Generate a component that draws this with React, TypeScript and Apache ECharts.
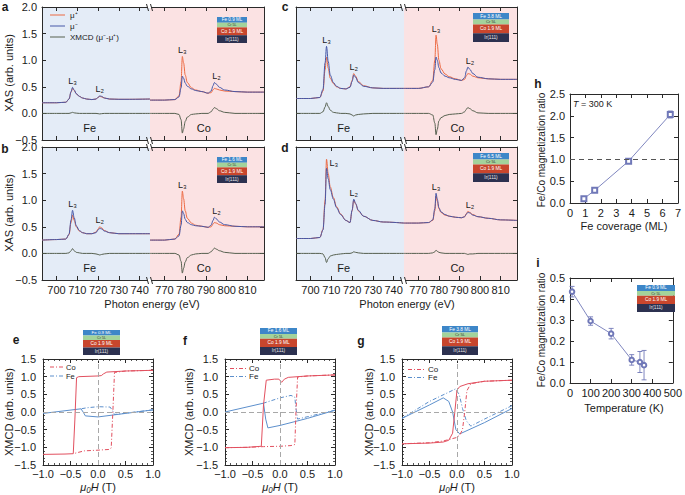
import React, { useEffect, useRef } from "react";
import * as echarts from "echarts";

const FONT = '"Liberation Sans", Arial, Helvetica, sans-serif';
const AXC = "#2a2a2a";
const TXT = "#1a1a1a";
const BLUE_BG = "#e4ecf7";
const PINK_BG = "#fbe2e3";
const C_MUP = "#ec6a43";
const C_MUM = "#4658a8";
const C_XMCD = "#56604f";
const C_CO = "#e2505f";
const C_FE = "#5c8fcc";
const C_RATIO = "#7078b8";
const DASHDOT = [4, 2, 1, 2];

// ---------- XAS energy grids (eV) and ticks ----------
const FE_E = [693, 700, 704.5, 706, 707, 707.7, 708.5, 709.5, 711, 712.5, 714.5, 717, 719, 720, 720.8, 721.7, 723, 725.5, 730, 735, 745];
const CO_E = [763, 770, 775, 777, 778, 778.6, 779.2, 780, 781, 783, 785, 788, 791, 792.5, 793.4, 794.1, 795, 796.5, 799, 804, 810, 818];
const FE_TICKS = [700, 710, 720, 730, 740];
const CO_TICKS = [770, 780, 790, 800, 810];

// ---------- panel a ----------
const A_FE_MUP = [0.2, 0.2, 0.21, 0.27, 0.4, 0.47, 0.43, 0.37, 0.32, 0.29, 0.27, 0.26, 0.27, 0.3, 0.32, 0.31, 0.29, 0.27, 0.265, 0.265, 0.27];
const A_FE_MUM = [0.2, 0.2, 0.21, 0.27, 0.41, 0.49, 0.44, 0.37, 0.32, 0.29, 0.27, 0.26, 0.27, 0.3, 0.33, 0.32, 0.29, 0.27, 0.265, 0.265, 0.27];
const A_FE_XMCD = [0, 0, 0, 0, 0.01, 0.02, 0.01, 0.005, 0, 0, 0, 0, 0, -0.005, -0.01, -0.005, 0, 0, 0, 0, 0];
const A_CO_MUP = [0.25, 0.25, 0.26, 0.33, 0.6, 1.07, 0.95, 0.72, 0.58, 0.48, 0.44, 0.41, 0.38, 0.39, 0.44, 0.47, 0.46, 0.44, 0.42, 0.41, 0.4, 0.4];
const A_CO_MUM = [0.25, 0.25, 0.26, 0.31, 0.48, 0.7, 0.66, 0.57, 0.51, 0.46, 0.43, 0.41, 0.38, 0.42, 0.52, 0.58, 0.55, 0.49, 0.44, 0.41, 0.4, 0.4];
const A_CO_XMCD = [0, 0, 0, -0.02, -0.12, -0.37, -0.29, -0.15, -0.07, -0.02, -0.01, 0, 0, 0.03, 0.08, 0.11, 0.09, 0.05, 0.02, 0, 0, 0];

// ---------- panel b ----------
const B_FE_MUP = [0.25, 0.26, 0.27, 0.35, 0.58, 0.72, 0.62, 0.5, 0.42, 0.39, 0.37, 0.37, 0.4, 0.46, 0.5, 0.48, 0.43, 0.39, 0.37, 0.37, 0.37];
const B_FE_MUM = [0.25, 0.26, 0.27, 0.36, 0.63, 0.81, 0.67, 0.52, 0.43, 0.39, 0.37, 0.37, 0.39, 0.44, 0.47, 0.46, 0.42, 0.39, 0.37, 0.37, 0.37];
const B_FE_XMCD = [0, 0, 0, 0.01, 0.05, 0.09, 0.05, 0.02, 0.01, 0, 0, 0, -0.01, -0.02, -0.03, -0.02, -0.01, 0, 0, 0, 0];
const B_CO_MUP = [0.25, 0.25, 0.27, 0.36, 0.68, 1.17, 1.03, 0.8, 0.66, 0.57, 0.53, 0.51, 0.49, 0.5, 0.55, 0.58, 0.57, 0.54, 0.52, 0.51, 0.5, 0.5];
const B_CO_MUM = [0.25, 0.25, 0.27, 0.33, 0.53, 0.8, 0.75, 0.64, 0.58, 0.54, 0.52, 0.51, 0.49, 0.53, 0.62, 0.68, 0.65, 0.59, 0.54, 0.51, 0.5, 0.5];
const B_CO_XMCD = [0, 0, 0, -0.03, -0.15, -0.37, -0.28, -0.16, -0.08, -0.03, -0.01, 0, 0, 0.03, 0.07, 0.1, 0.08, 0.05, 0.02, 0, 0, 0];

// ---------- panel c ----------
const C_FE_MUP = [0.28, 0.28, 0.3, 0.42, 0.82, 1.06, 0.85, 0.66, 0.56, 0.5, 0.47, 0.46, 0.5, 0.62, 0.75, 0.7, 0.6, 0.52, 0.48, 0.47, 0.47];
const C_FE_MUM = [0.28, 0.28, 0.3, 0.45, 0.95, 1.26, 0.98, 0.72, 0.58, 0.51, 0.47, 0.46, 0.49, 0.6, 0.72, 0.68, 0.58, 0.51, 0.48, 0.47, 0.47];
const C_FE_XMCD = [0, 0, 0, 0.03, 0.12, 0.2, 0.13, 0.06, 0.02, 0.01, 0, 0, -0.01, -0.03, -0.05, -0.03, -0.02, -0.01, 0, 0, 0];
const C_CO_MUP = [0.47, 0.47, 0.5, 0.62, 1.0, 1.47, 1.3, 1.0, 0.84, 0.74, 0.69, 0.65, 0.62, 0.64, 0.71, 0.75, 0.74, 0.7, 0.67, 0.65, 0.64, 0.64];
const C_CO_MUM = [0.47, 0.47, 0.5, 0.59, 0.82, 1.06, 1.0, 0.86, 0.76, 0.7, 0.67, 0.64, 0.62, 0.67, 0.8, 0.87, 0.83, 0.75, 0.68, 0.65, 0.64, 0.64];
const C_CO_XMCD = [0, 0, 0, -0.03, -0.18, -0.4, -0.3, -0.14, -0.08, -0.04, -0.02, -0.01, 0, 0.03, 0.08, 0.11, 0.09, 0.05, 0.01, 0, 0, 0];

// ---------- panel d ----------
const D_FE_MUP = [0.28, 0.28, 0.3, 0.45, 1.0, 1.77, 1.5, 1.25, 1.05, 0.88, 0.74, 0.62, 0.58, 0.8, 1.0, 0.93, 0.8, 0.7, 0.62, 0.59, 0.57];
const D_FE_MUM = [0.28, 0.28, 0.3, 0.44, 0.92, 1.6, 1.4, 1.2, 1.02, 0.86, 0.73, 0.62, 0.58, 0.81, 1.02, 0.94, 0.81, 0.7, 0.62, 0.59, 0.57];
const D_FE_XMCD = [0, 0, 0, -0.01, -0.08, -0.17, -0.1, -0.05, -0.03, -0.02, -0.01, 0, 0, 0.01, 0.03, 0.02, 0.01, 0, 0, 0, 0];
const D_CO_MUP = [0.57, 0.57, 0.58, 0.62, 0.8, 1.08, 0.98, 0.84, 0.77, 0.72, 0.7, 0.68, 0.67, 0.69, 0.75, 0.79, 0.77, 0.73, 0.69, 0.66, 0.63, 0.62];
const D_CO_MUM = [0.57, 0.57, 0.58, 0.63, 0.84, 1.13, 1.02, 0.86, 0.78, 0.73, 0.7, 0.68, 0.67, 0.69, 0.74, 0.77, 0.76, 0.72, 0.69, 0.66, 0.63, 0.62];
const D_CO_XMCD = [0, 0, 0, 0.01, 0.03, 0.06, 0.04, 0.02, 0.01, 0, 0, 0, 0, 0, -0.01, -0.02, -0.01, -0.01, 0, 0, 0, 0];

// ---------- hysteresis loops (field in T, XMCD) ----------
const E_CO_UP_H = [-1, -0.6, -0.45, -0.42, -0.39, -0.35, 0, 0.06, 0.1, 0.16, 0.5, 1];
const E_CO_UP_M = [-1.2, -1.19, -1.18, -0.2, 0.97, 1.0, 1.02, 1.03, 1.08, 1.13, 1.16, 1.18];
const E_CO_DN_H = [1, 0.5, 0.3, 0.27, 0.24, 0.2, 0, -0.25, -0.4, -0.45];
const E_CO_DN_M = [1.18, 1.16, 1.12, 0.0, -1.02, -1.06, -1.08, -1.1, -1.16, -1.18];
const E_FE_UP_H = [-1, -0.31, -0.27, -0.23, 0, 0.5, 1];
const E_FE_UP_M = [-0.04, 0.09, 0.0, -0.11, -0.14, -0.04, 0.06];
const E_FE_DN_H = [1, 0.3, 0.26, 0.22, 0, -0.2, -0.31];
const E_FE_DN_M = [0.06, -0.07, 0.05, 0.14, 0.15, 0.12, 0.09];

const F_CO_UP_H = [-1, -0.6, -0.34, -0.3, -0.25, -0.1, -0.02, 0.03, 0.08, 0.15, 0.5, 1];
const F_CO_UP_M = [-1.01, -1.0, -0.97, 0.2, 0.9, 0.93, 0.93, 0.84, 0.93, 0.98, 1.02, 1.05];
const F_CO_DN_H = [1, 0.5, 0.32, 0.29, 0.27, 0.2, 0, -0.3, -0.6, -1];
const F_CO_DN_M = [1.05, 1.02, 0.99, 0.0, -0.92, -0.95, -0.97, -0.98, -1.0, -1.01];
const F_FE_UP_H = [-1, -0.3, -0.26, -0.22, 0, 0.5, 1];
const F_FE_UP_M = [0.0, 0.25, -0.2, -0.45, -0.38, -0.18, 0.05];
const F_FE_DN_H = [1, 0.32, 0.29, 0.27, 0.2, 0, -0.2, -0.3];
const F_FE_DN_M = [0.05, -0.2, 0.1, 0.42, 0.47, 0.4, 0.3, 0.25];

const G_CO_UP_H = [-1, -0.5, -0.25, -0.15, -0.08, -0.04, 0, 0.05, 0.2, 0.5, 1];
const G_CO_UP_M = [-0.9, -0.88, -0.85, -0.8, -0.6, 0.0, 0.62, 0.72, 0.8, 0.87, 0.9];
const G_CO_DN_H = [1, 0.5, 0.25, 0.18, 0.14, 0.1, 0.05, 0, -0.25, -0.5, -1];
const G_CO_DN_M = [0.9, 0.87, 0.8, 0.6, 0.0, -0.5, -0.65, -0.72, -0.82, -0.87, -0.9];
const G_FE_UP_H = [-1, -0.5, -0.25, -0.15, -0.08, -0.02, 0.05, 0.5, 1];
const G_FE_UP_M = [-0.18, 0.2, 0.4, 0.3, 0.0, -0.5, -0.62, -0.3, 0.1];
const G_FE_DN_H = [1, 0.5, 0.25, 0.17, 0.1, 0.04, -0.03, -0.5, -1];
const G_FE_DN_M = [0.18, -0.2, -0.4, -0.25, 0.1, 0.5, 0.65, 0.3, -0.18];

// ---------- panel h & i ----------
const H_COV = [0.9, 1.6, 3.8, 6.5];
const H_RATIO = [0.1, 0.29, 0.96, 2.03];
const H_ERR = [0.03, 0.03, 0.04, 0.08];
const I_TEMP = [10, 100, 200, 300, 340, 360];
const I_RATIO = [0.435, 0.295, 0.235, 0.11, 0.1, 0.085];
const I_ERR = [0.025, 0.02, 0.025, 0.025, 0.05, 0.07];

// sample stack labels
const STACK_LAYERS = ["Cr 5L", "Co 1.9 ML", "Ir(111)"];
const FE_A = "Fe 0.9 ML", FE_B = "Fe 1.6 ML", FE_C = "Fe 3.8 ML", FE_D = "Fe 6.5 ML";

function fmt1(v: number) {
  const r = Math.round(v * 10) / 10;
  return (r === 0 ? 0 : r).toFixed(1).replace("-", "\u2212");
}
function fmt0(v: number) {
  return String(Math.round(v));
}

type AxCfg = { min: number; max: number; interval?: number; ticks?: number[]; labels?: boolean; fmt?: (v: number) => string; minor?: boolean; margin?: number };
type Ax = { xi: number; yi: number };

function buildOption() {
  const grid: any[] = [];
  const xAxis: any[] = [];
  const yAxis: any[] = [];
  const series: any[] = [];
  const gr: any[] = [];

  const axisCommon = (c: AxCfg, showLabel: boolean) => {
    const tick: any = { show: true, inside: true, length: 4, lineStyle: { color: AXC, width: 1 } };
    const lab: any = { show: showLabel, fontFamily: FONT, fontSize: 11, color: TXT, margin: c.margin ?? 4, formatter: c.fmt };
    if (c.ticks) {
      tick.customValues = c.ticks;
      lab.customValues = c.ticks;
    }
    const o: any = {
      type: "value",
      min: c.min,
      max: c.max,
      axisLine: { show: true, onZero: false, lineStyle: { color: AXC, width: 1 } },
      axisTick: tick,
      minorTick: c.minor ? { show: true, splitNumber: 5, length: 2, lineStyle: { color: AXC, width: 0.8 } } : { show: false },
      axisLabel: lab,
      splitLine: { show: false },
      minorSplitLine: { show: false },
    };
    if (c.interval !== undefined) o.interval = c.interval;
    return o;
  };

  const addGrid = (o: { left: number; top: number; width: number; height: number; bg?: string; x: AxCfg; y: AxCfg; ySides: string[] }): Ax => {
    const gi = grid.length;
    grid.push({ left: o.left, top: o.top, width: o.width, height: o.height, show: !!o.bg, backgroundColor: o.bg ?? "transparent", borderWidth: 0 });
    const xi = xAxis.length;
    xAxis.push({ ...axisCommon(o.x, !!o.x.labels), gridIndex: gi, position: "bottom" });
    xAxis.push({ ...axisCommon(o.x, false), gridIndex: gi, position: "top" });
    const yi = yAxis.length;
    o.ySides.forEach((s, k) => yAxis.push({ ...axisCommon(o.y, k === 0 && !!o.y.labels), gridIndex: gi, position: s }));
    return { xi, yi };
  };

  const ser = (ax: Ax, xs: number[], ys: number[], color: string, extra: any = {}) => ({
    type: "line",
    xAxisIndex: ax.xi,
    yAxisIndex: ax.yi,
    data: xs.map((x, i) => [x, ys[i]]),
    symbol: "none",
    showSymbol: false,
    silent: true,
    lineStyle: { color, width: 1 },
    itemStyle: { color },
    z: 3,
    ...extra,
  });

  const mp = (items: { name: string; coord: number[]; pos?: string; off?: number[]; size?: number }[]) => ({
    symbol: "circle",
    symbolSize: 0,
    silent: true,
    itemStyle: { color: "transparent" },
    label: { show: true, formatter: "{b}", color: TXT, fontFamily: FONT, fontSize: 9, distance: 2 },
    data: items.map((it) => ({
      name: it.name,
      coord: it.coord,
      label: { position: it.pos ?? "top", offset: it.off ?? [0, 0], fontSize: it.size ?? 9 },
    })),
  });

  const txt = (x: number, y: number, s: string, st: any = {}) => ({
    type: "text",
    x,
    y,
    z: 100,
    silent: true,
    style: { text: s, x: 0, y: 0, fill: TXT, fontSize: 11, fontFamily: FONT, align: "center", verticalAlign: "middle", ...st },
  });
  const vtxt = (x: number, y: number, s: string, st: any = {}) => ({ ...txt(x, y, s, st), rotation: Math.PI / 2 });
  const ln = (x1: number, y1: number, x2: number, y2: number, stroke: string, st: any = {}) => ({
    type: "line",
    z: 100,
    silent: true,
    shape: { x1, y1, x2, y2 },
    style: { stroke, lineWidth: 1, ...st },
  });

  const stack = (x: number, y: number, w: number, h: number, fe: string) => {
    const fr = [0.22, 0.18, 0.3, 0.3];
    const cols = ["#3d86c8", "#a3d39b", "#c8462d", "#2c3150"];
    const labels = [fe, ...STACK_LAYERS];
    const tc = ["#ffffff", "#3a3a3a", "#ffffff", "#e6e6e6"];
    let cy = y;
    fr.forEach((f, i) => {
      const bh = h * f;
      gr.push({ type: "rect", z: 100, silent: true, shape: { x, y: cy, width: w, height: bh }, style: { fill: cols[i] } });
      gr.push({
        type: "text",
        z: 101,
        silent: true,
        x: x + w / 2,
        y: cy + bh / 2,
        style: { text: labels[i], x: 0, y: 0, align: "center", verticalAlign: "middle", fill: tc[i], fontSize: Math.min(4.8, bh * 0.8), fontFamily: FONT },
      });
      cy += bh;
    });
  };

  const brk = (x: number, yT: number, yB: number) => {
    [yT, yB].forEach((yy) => {
      gr.push({ type: "rect", z: 100, silent: true, shape: { x: x - 2, y: yy - 1, width: 4, height: 2 }, style: { fill: "#ffffff" } });
      gr.push(ln(x - 3.5, yy - 3, x - 1.5, yy + 4, AXC));
      gr.push(ln(x + 0.5, yy - 3, x + 2.5, yy + 4, AXC));
    });
  };

  // ---------- XAS panels ----------
  const xasPanel = (left: number, top: number, coW: number, showX: boolean, showY: boolean, d: any, fe3Pos: any = {}) => {
    const feW = 108;
    const yc: AxCfg = { min: -0.5, max: 2, interval: 0.5, labels: showY, fmt: fmt1, margin: 5 };
    const fe = addGrid({ left, top, width: feW, height: 133, bg: BLUE_BG, x: { min: 693, max: 745, ticks: FE_TICKS, labels: showX, fmt: fmt0 }, y: yc, ySides: ["left"] });
    const co = addGrid({ left: left + feW, top, width: coW, height: 133, bg: PINK_BG, x: { min: 763, max: 818, ticks: CO_TICKS, labels: showX, fmt: fmt0 }, y: { ...yc, labels: false }, ySides: ["right"] });
    const sm = { smooth: 0.35, smoothMonotone: "x" };
    series.push(ser(fe, FE_E, d.feP, C_MUP, sm));
    series.push(
      ser(fe, FE_E, d.feM, C_MUM, {
        ...sm,
        markPoint: mp([
          { name: "L\u2083", coord: [FE_E[5], Math.max(d.feP[5], d.feM[5])], ...fe3Pos },
          { name: "L\u2082", coord: [FE_E[14], Math.max(d.feP[14], d.feM[14])] },
        ]),
      })
    );
    series.push(ser(fe, FE_E, d.feX, C_XMCD, { ...sm, markPoint: mp([{ name: "Fe", coord: [716, -0.27], pos: "inside", size: 11 }]) }));
    series.push(ser(co, CO_E, d.coP, C_MUP, sm));
    series.push(
      ser(co, CO_E, d.coM, C_MUM, {
        ...sm,
        markPoint: mp([
          { name: "L\u2083", coord: [CO_E[5], Math.max(d.coP[5], d.coM[5])] },
          { name: "L\u2082", coord: [CO_E[15], Math.max(d.coP[15], d.coM[15])], off: [2, 0] },
        ]),
      })
    );
    series.push(ser(co, CO_E, d.coX, C_XMCD, { ...sm, markPoint: mp([{ name: "Co", coord: [789, -0.27], pos: "inside", size: 11 }]) }));
    brk(left + feW, top, top + 133);
  };

  xasPanel(42, 7, 114, false, true, { feP: A_FE_MUP, feM: A_FE_MUM, feX: A_FE_XMCD, coP: A_CO_MUP, coM: A_CO_MUM, coX: A_CO_XMCD });
  xasPanel(42, 147, 114, true, true, { feP: B_FE_MUP, feM: B_FE_MUM, feX: B_FE_XMCD, coP: B_CO_MUP, coM: B_CO_MUM, coX: B_CO_XMCD });
  xasPanel(296, 7, 113, false, false, { feP: C_FE_MUP, feM: C_FE_MUM, feX: C_FE_XMCD, coP: C_CO_MUP, coM: C_CO_MUM, coX: C_CO_XMCD });
  xasPanel(296, 147, 113, true, false, { feP: D_FE_MUP, feM: D_FE_MUM, feX: D_FE_XMCD, coP: D_CO_MUP, coM: D_CO_MUM, coX: D_CO_XMCD }, { pos: "right", off: [1, 4] });

  // ---------- panel h ----------
  const h = addGrid({ left: 570, top: 94, width: 108, height: 109, x: { min: 0, max: 7, interval: 1, labels: true, fmt: fmt0 }, y: { min: 0, max: 2.5, interval: 0.5, labels: true, fmt: fmt1, margin: 5 }, ySides: ["left", "right"] });
  const errBars = (ax: Ax, xs: number[], ys: number[], es: number[], color: string) => ({
    type: "custom",
    xAxisIndex: ax.xi,
    yAxisIndex: ax.yi,
    silent: true,
    z: 2,
    data: xs.map((x, i) => [x, ys[i], es[i]]),
    encode: { x: 0, y: 1 },
    renderItem: (_p: any, api: any) => {
      const x = api.value(0), y = api.value(1), e = api.value(2);
      const a = api.coord([x, y + e]);
      const b = api.coord([x, y - e]);
      const st = { stroke: color, lineWidth: 0.9 };
      return {
        type: "group",
        children: [
          { type: "line", shape: { x1: a[0], y1: a[1], x2: b[0], y2: b[1] }, style: st },
          { type: "line", shape: { x1: a[0] - 2.5, y1: a[1], x2: a[0] + 2.5, y2: a[1] }, style: st },
          { type: "line", shape: { x1: b[0] - 2.5, y1: b[1], x2: b[0] + 2.5, y2: b[1] }, style: st },
        ],
      };
    },
  });
  series.push(errBars(h, H_COV, H_RATIO, H_ERR, C_RATIO));
  series.push(
    ser(h, H_COV, H_RATIO, C_RATIO, {
      symbol: "emptyRect",
      showSymbol: true,
      symbolSize: 5,
      lineStyle: { color: C_RATIO, width: 0.9 },
      itemStyle: { color: C_RATIO, borderColor: C_RATIO, borderWidth: 0.9 },
      markLine: { silent: true, symbol: "none", label: { show: false }, lineStyle: { type: [5, 4], color: "#555", width: 1 }, data: [{ yAxis: 1 }] },
    })
  );

  // ---------- panel i ----------
  const iAx = addGrid({ left: 570, top: 278, width: 107, height: 105, x: { min: 0, max: 500, interval: 100, labels: true, fmt: fmt0 }, y: { min: 0, max: 0.5, interval: 0.1, labels: true, fmt: fmt1, margin: 5 }, ySides: ["left", "right"] });
  series.push(errBars(iAx, I_TEMP, I_RATIO, I_ERR, C_RATIO));
  series.push(
    ser(iAx, I_TEMP, I_RATIO, C_RATIO, {
      symbol: "emptyCircle",
      showSymbol: true,
      symbolSize: 4.5,
      lineStyle: { color: C_RATIO, width: 0.9 },
      itemStyle: { color: C_RATIO, borderColor: C_RATIO, borderWidth: 0.9 },
    })
  );

  // ---------- hysteresis panels ----------
  const zeroLines = { silent: true, symbol: "none", label: { show: false }, lineStyle: { type: [5, 3], color: "#a8a8a8", width: 1 }, data: [{ xAxis: 0 }, { yAxis: 0 }] };
  const hyst = (left: number, d: number[][]) => {
    const ax = addGrid({
      left,
      top: 359,
      width: 110,
      height: 106,
      x: { min: -1, max: 1, interval: 0.5, labels: true, fmt: fmt1, minor: true, margin: 3 },
      y: { min: -1.5, max: 1.5, interval: 0.5, labels: true, fmt: fmt1, minor: true, margin: 7 },
      ySides: ["left", "right"],
    });
    series.push(ser(ax, d[0], d[1], C_CO, { markLine: zeroLines, z: 4 }));
    series.push(ser(ax, d[2], d[3], C_CO, { lineStyle: { color: C_CO, width: 1, type: DASHDOT }, z: 4 }));
    series.push(ser(ax, d[4], d[5], C_FE));
    series.push(ser(ax, d[6], d[7], C_FE, { lineStyle: { color: C_FE, width: 1, type: DASHDOT } }));
  };
  hyst(43, [E_CO_UP_H, E_CO_UP_M, E_CO_DN_H, E_CO_DN_M, E_FE_UP_H, E_FE_UP_M, E_FE_DN_H, E_FE_DN_M]);
  hyst(225, [F_CO_UP_H, F_CO_UP_M, F_CO_DN_H, F_CO_DN_M, F_FE_UP_H, F_FE_UP_M, F_FE_DN_H, F_FE_DN_M]);
  hyst(402, [G_CO_UP_H, G_CO_UP_M, G_CO_DN_H, G_CO_DN_M, G_FE_UP_H, G_FE_UP_M, G_FE_DN_H, G_FE_DN_M]);

  // ---------- annotations ----------
  const bold = { fontWeight: "bold", fontSize: 12 };
  gr.push(txt(5, 7, "a", bold), txt(5, 149, "b", bold), txt(285, 7, "c", bold), txt(285, 148, "d", bold));
  gr.push(txt(16, 340, "e", bold), txt(185, 341, "f", bold), txt(361, 341, "g", bold), txt(538, 84, "h", bold), txt(538, 263, "i", bold));

  gr.push(vtxt(9, 73, "XAS (arb. units)"), vtxt(9, 213, "XAS (arb. units)"));
  gr.push(txt(152, 304, "Photon energy (eV)"), txt(407, 304, "Photon energy (eV)"));
  gr.push(vtxt(541, 150, "Fe/Co magnetization ratio", { fontSize: 10 }), vtxt(541, 330, "Fe/Co magnetization ratio", { fontSize: 10 }));
  gr.push(txt(624, 226, "Fe coverage (ML)"), txt(624, 408, "Temperature (K)"));
  gr.push(vtxt(9, 412, "XMCD (arb. units)"), vtxt(189, 412, "XMCD (arb. units)"), vtxt(369, 412, "XMCD (arb. units)"));
  const muH = (x: number) =>
    txt(x, 487, "{i|\u03bc\u2080H} (T)", { rich: { i: { fontStyle: "italic", fontSize: 11, fontFamily: FONT, fill: TXT } } });
  gr.push(muH(98), muH(280), muH(457));
  gr.push(txt(573, 103.5, "{i|T} = 300 K", { align: "left", fontSize: 9, rich: { i: { fontStyle: "italic", fontSize: 9, fontFamily: FONT, fill: TXT } } }));

  // panel a legend
  const legA: [string, string, number][] = [
    [C_MUP, "\u03bc\u207a", 15],
    [C_MUM, "\u03bc\u207b", 26],
    [C_XMCD, "XMCD (\u03bc\u207b-\u03bc\u207a)", 37],
  ];
  legA.forEach(([c, s, y]) => {
    gr.push(ln(50, y, 65, y, c));
    gr.push(txt(70, y, s, { align: "left", fontSize: 8 }));
  });

  // hysteresis legends
  const hLeg = (x1: number, x2: number, y1: number, y2: number, fs: number) => {
    gr.push(ln(x1, y1, x2, y1, C_CO, { lineDash: DASHDOT }), txt(x2 + 2, y1, "Co", { align: "left", fontSize: fs }));
    gr.push(ln(x1, y2, x2, y2, C_FE, { lineDash: DASHDOT }), txt(x2 + 2, y2, "Fe", { align: "left", fontSize: fs }));
  };
  hLeg(50, 64, 367, 376, 7.5);
  hLeg(230, 247, 368.5, 376.5, 8);
  hLeg(408, 426, 369.5, 377.5, 8);

  // sample stacks
  stack(217, 17, 30, 26, FE_A);
  stack(217, 157, 30, 26, FE_B);
  stack(473, 13, 36, 29, FE_C);
  stack(473, 153, 36, 29, FE_D);
  stack(83, 330, 37, 25, FE_A);
  stack(260, 328, 37, 27, FE_B);
  stack(442, 326, 36, 29, FE_C);
  stack(637, 285, 38, 27, FE_A);

  return {
    animation: false,
    backgroundColor: "#ffffff",
    textStyle: { fontFamily: FONT },
    grid,
    xAxis,
    yAxis,
    series,
    graphic: { elements: gr },
  };
}

export default function App() {
  const ref = useRef<HTMLDivElement>(null);
  useEffect(() => {
    const chart = echarts.init(ref.current!, null, { renderer: "svg" });
    chart.setOption(buildOption() as any);
    return () => chart.dispose();
  }, []);
  return <div ref={ref} style={{ position: "fixed", left: 0, top: 0, width: 685, height: 495, background: "#fff" }} />;
}
